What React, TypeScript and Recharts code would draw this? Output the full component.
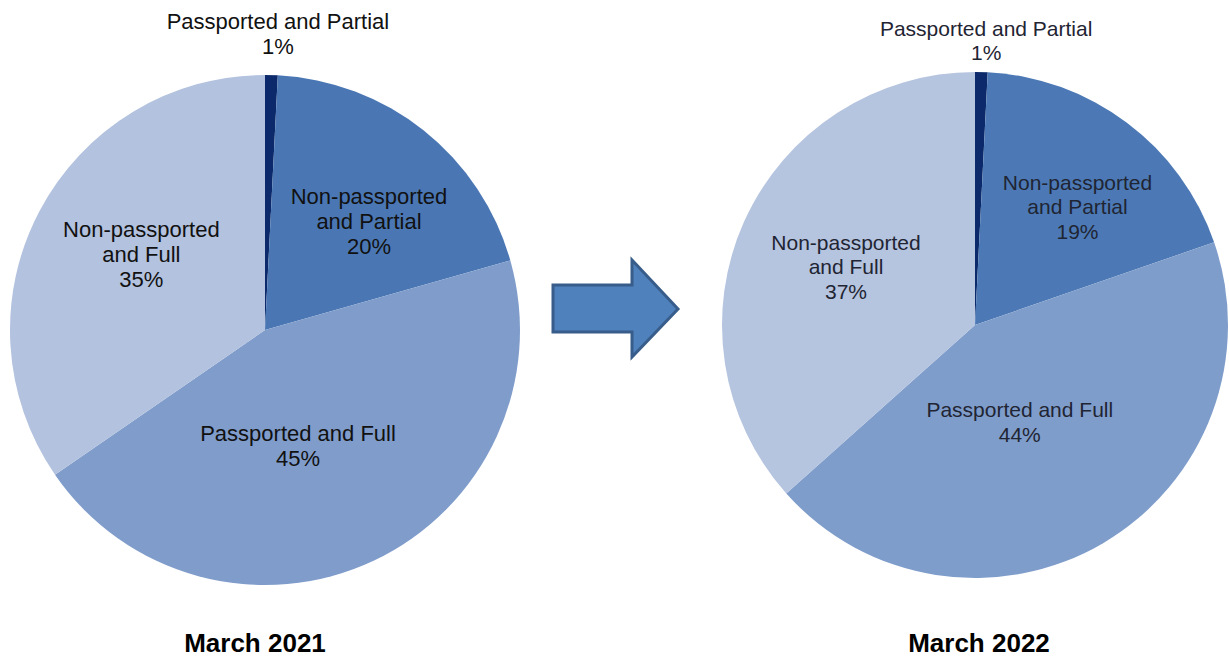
import React from 'react';
import { PieChart, Pie, Cell } from 'recharts';

const categories = ['Passported and Partial', 'Non-passported and Partial', 'Passported and Full', 'Non-passported and Full'];
const labelLines = [['Passported and Partial'], ['Non-passported', 'and Partial'], ['Passported and Full'], ['Non-passported', 'and Full']];
const values2021 = [0.8, 19.8, 44.8, 34.6];
const values2022 = [0.8, 18.9, 43.7, 36.6];
const periods = ['March 2021', 'March 2022'];

const colors2021 = ['#0c2a6b', '#4a77b4', '#7f9ccb', '#b3c2de'];
const colors2022 = ['#0c2a6b', '#4c79b5', '#7f9dcb', '#b5c4df'];

const layout2021 = [
  { f: 1.162, shift: 1.06 },
  { f: 0.59, shift: 5.2 },
  { f: 0.47, shift: 9.2 },
  { f: 0.57, shift: 4.0 },
];
const layout2022 = [
  { f: 1.127, shift: 0.8 },
  { f: 0.62, shift: 3.9 },
  { f: 0.42, shift: 5.5 },
  { f: 0.56, shift: 0.3 },
];

const data2021 = categories.map((name, i) => ({ name, value: values2021[i] }));
const data2022 = categories.map((name, i) => ({ name, value: values2022[i] }));

const FONT = '"Liberation Sans", Arial, sans-serif';

const makeLabel = (layout: any[], values: number[], fontSize: number, lineH: number, color: string) => (props: any) => {
  const { cx, cy, midAngle, outerRadius, index } = props;
  const { f, shift } = layout[index];
  const ang = midAngle - shift;
  const rad = Math.PI / 180;
  const d = outerRadius * f;
  const x = cx + d * Math.cos(-ang * rad);
  const y = cy + d * Math.sin(-ang * rad);
  const lines = [...labelLines[index], `${Math.round(values[index])}%`];
  const n = lines.length;
  return (
    <text
      key={`l-${index}`}
      x={x}
      y={y}
      textAnchor="middle"
      dominantBaseline="central"
      fill={color}
      fontSize={fontSize}
      fontFamily={FONT}
    >
      {lines.map((t, i) => (
        <tspan key={i} x={x} y={y + (i - (n - 1) / 2) * lineH} dominantBaseline="central">
          {t}
        </tspan>
      ))}
    </text>
  );
};

export default function App() {
  return (
    <div style={{ position: 'absolute', left: 0, top: 0, width: 1229, height: 657, background: '#fff' }}>
      <PieChart width={1229} height={657} margin={{ top: 0, right: 0, bottom: 0, left: 0 }}>
        <Pie
          data={data2021}
          dataKey="value"
          nameKey="name"
          cx={265}
          cy={330}
          outerRadius={255}
          startAngle={90}
          endAngle={-270}
          stroke="none"
          labelLine={false}
          label={makeLabel(layout2021, values2021, 22, 25, '#111111')}
          isAnimationActive={false}
        >
          {data2021.map((_, i) => (
            <Cell key={i} fill={colors2021[i]} />
          ))}
        </Pie>
        <Pie
          data={data2022}
          dataKey="value"
          nameKey="name"
          cx={975}
          cy={325}
          outerRadius={253}
          startAngle={90}
          endAngle={-270}
          stroke="none"
          labelLine={false}
          label={makeLabel(layout2022, values2022, 21, 24.5, '#1f2533')}
          isAnimationActive={false}
        >
          {data2022.map((_, i) => (
            <Cell key={i} fill={colors2022[i]} />
          ))}
        </Pie>
      </PieChart>
      <svg
        width={1229}
        height={657}
        style={{ position: 'absolute', left: 0, top: 0, pointerEvents: 'none' }}
      >
        <polygon
          points="553,285 632,285 632,260 678,309 632,357 632,332 553,332"
          fill="#4f81bd"
          stroke="#385d8a"
          strokeWidth={3}
          strokeLinejoin="miter"
        />
        <text x={255} y={652} textAnchor="middle" fontFamily={FONT} fontWeight="bold" fontSize={26} fill="#000">
          {periods[0]}
        </text>
        <text x={979} y={652} textAnchor="middle" fontFamily={FONT} fontWeight="bold" fontSize={26} fill="#000">
          {periods[1]}
        </text>
      </svg>
    </div>
  );
}
